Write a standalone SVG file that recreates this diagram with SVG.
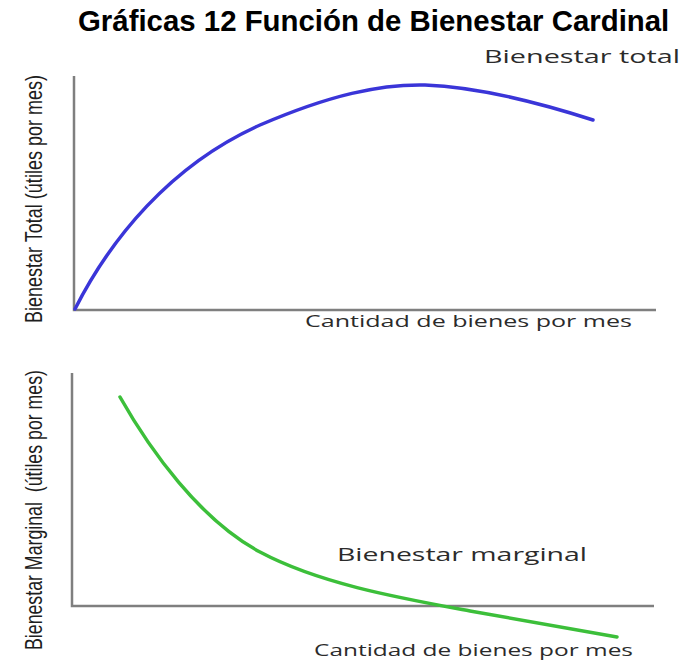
<svg xmlns="http://www.w3.org/2000/svg" width="684" height="661" viewBox="0 0 684 661">
<style>
.title{font-family:"Liberation Sans",Arial,sans-serif;font-weight:bold;font-size:29.4px;fill:#000}
.ylab{font-family:"Liberation Sans",Arial,sans-serif;font-size:24.5px;fill:#1e1e1e}
.lab{font-family:"Open Sans","DejaVu Sans",sans-serif;fill:#2b2b2b}
.axis{stroke:#7f7f7f;stroke-width:2.5;fill:none}
.blue{stroke:#3a35d8;stroke-width:3.5;fill:none;stroke-linecap:round}
.green{stroke:#3cbf3a;stroke-width:3.5;fill:none;stroke-linecap:round}
</style>
<rect width="684" height="661" fill="#fff"/>
<g id="title"><text class="title" x="78" y="31">Gráficas 12 Función de Bienestar Cardinal</text></g>
<g id="chart-total">
  <g id="axes-total">
    <path class="axis" d="M74,76 V310 H656"/>
  </g>
  <text id="ylabel-total" class="ylab" transform="translate(42,323) rotate(-90)" textLength="248" lengthAdjust="spacingAndGlyphs">Bienestar Total (útiles por mes)</text>
  <text id="xlabel-total" class="lab" x="305" y="327" style="font-size:16px" textLength="327" lengthAdjust="spacingAndGlyphs">Cantidad de bienes por mes</text>
  <text id="label-bt" class="lab" x="484" y="63" style="font-size:18px" textLength="196" lengthAdjust="spacingAndGlyphs">Bienestar total</text>
</g>
<g id="chart-marginal">
  <g id="axes-marginal">
    <path class="axis" d="M72,373 V606 H654"/>
  </g>
  <text id="ylabel-marginal" class="ylab" xml:space="preserve" transform="translate(42,650) rotate(-90)" textLength="280" lengthAdjust="spacingAndGlyphs">Bienestar Marginal  (útiles por mes)</text>
  <text id="xlabel-marginal" class="lab" x="314" y="656" style="font-size:15.5px" textLength="319" lengthAdjust="spacingAndGlyphs">Cantidad de bienes por mes</text>
  <text id="label-bm" class="lab" x="337" y="561" style="font-size:19px" textLength="250" lengthAdjust="spacingAndGlyphs">Bienestar marginal</text>
</g>
<g id="curves">
  <path id="curve-total" class="blue" d="M75,309 C110,240 170,165 260,125 C330,95 380,84 425,85 C480,87 540,103 593,120"/>
  <path id="curve-marginal" class="green" d="M120,397 C150,450 200,520 260,552 C320,584 400,598 470,611 C530,622 580,630 617,637"/>
</g>
</svg>
